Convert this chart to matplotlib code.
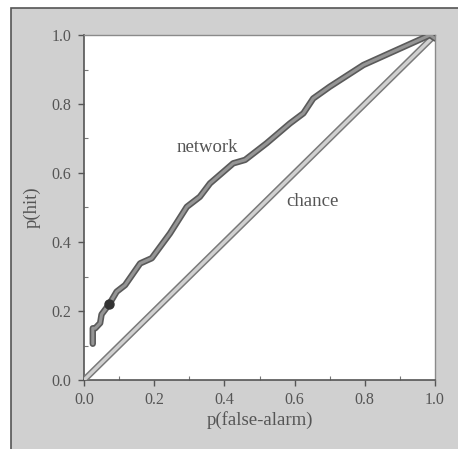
import matplotlib.pyplot as plt
import matplotlib.patheffects as pe
from matplotlib.patches import Rectangle
from matplotlib.ticker import MultipleLocator

# ROC curve
far = [0.025, 0.025, 0.032, 0.046, 0.05, 0.072, 0.093, 0.117, 0.16, 0.193, 0.245,
       0.293, 0.33, 0.359, 0.425, 0.459, 0.52, 0.587, 0.625, 0.653, 0.70, 0.796,
       0.881, 0.986, 1.0]
hit = [0.105, 0.15, 0.15, 0.165, 0.19, 0.22, 0.256, 0.275, 0.338, 0.353, 0.425,
       0.502, 0.531, 0.57, 0.628, 0.638, 0.686, 0.744, 0.773, 0.816, 0.85, 0.913,
       0.952, 1.0, 0.99]
marker_far = [0.072]
marker_hit = [0.22]
chance = [0.0, 1.0]
ticks = [0.0, 0.2, 0.4, 0.6, 0.8, 1.0]

txt = '#555555'
plt.rcParams['font.family'] = ['Liberation Serif', 'DejaVu Serif']

fig = plt.figure(figsize=(4.58, 4.49), dpi=100)
fig.patch.set_facecolor('white')
# grey panel behind the plot
fig.add_artist(Rectangle((11 / 458, -0.01), 1.0, (449 - 8) / 449 + 0.01, transform=fig.transFigure,
                         facecolor='#d0d0d0', edgecolor='#555555', linewidth=1.2, zorder=-5))

ax = fig.add_axes([84 / 458, (449 - 380) / 449, (435 - 84) / 458, (380 - 35) / 449])
ax.set_facecolor('white')

ax.plot(chance, chance, color='#d0d0d0', linewidth=2.4, solid_capstyle='butt',
        path_effects=[pe.Stroke(linewidth=4.6, foreground='#7a7a7a'), pe.Normal()], zorder=3)
ax.plot(far, hit, color='#959595', linewidth=2.2, solid_capstyle='round', solid_joinstyle='round',
        path_effects=[pe.Stroke(linewidth=4.6, foreground='#5a5a5a', capstyle='round',
                                joinstyle='round'), pe.Normal()], zorder=4)
ax.plot(marker_far, marker_hit, 'o', color='#333333', markersize=6.5, zorder=5)

ax.text(0.35, 0.675, 'network', color=txt, fontsize=13.5, ha='center', va='center')
ax.text(0.652, 0.516, 'chance', color=txt, fontsize=13.5, ha='center', va='center')

ax.set_xlim(0, 1)
ax.set_ylim(0, 1)
ax.set_xticks(ticks)
ax.set_yticks(ticks)
ax.set_xticklabels(['%.1f' % t for t in ticks])
ax.set_yticklabels(['%.1f' % t for t in ticks])
ax.xaxis.set_minor_locator(MultipleLocator(0.1))
ax.yaxis.set_minor_locator(MultipleLocator(0.1))
ax.tick_params(which='major', direction='out', length=4, width=1, colors='#555555',
               labelcolor=txt, labelsize=11.5, pad=5)
ax.tick_params(which='minor', direction='in', length=3, width=0.8, colors='#777777')
ax.tick_params(top=False, right=False, which='both')

for s in ['left', 'bottom']:
    ax.spines[s].set_color('#555555')
    ax.spines[s].set_linewidth(1.2)
for s in ['top', 'right']:
    ax.spines[s].set_color('#8a8a8a')
    ax.spines[s].set_linewidth(1.0)

ax.set_xlabel('p(false-alarm)', color=txt, fontsize=13.5, labelpad=2)
ax.set_ylabel('p(hit)', color=txt, fontsize=13.5, labelpad=8)

fig.savefig('out.png', dpi=100)
